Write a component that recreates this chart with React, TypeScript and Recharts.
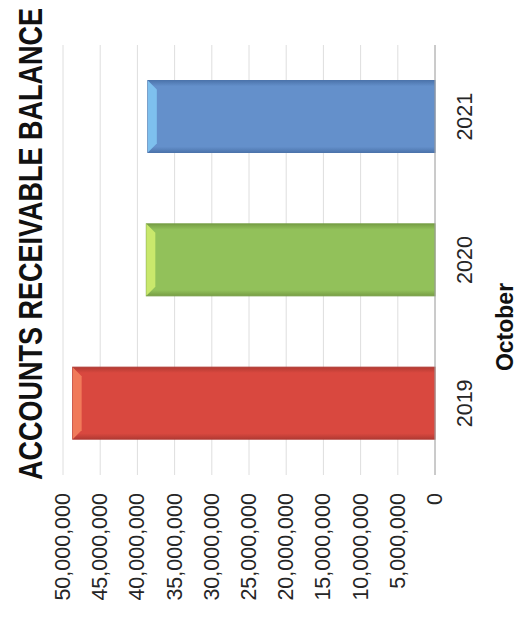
import React from 'react';
import { BarChart, Bar, XAxis, YAxis, CartesianGrid } from 'recharts';

const CATEGORIES = ['2019', '2020', '2021'];
const BALANCES = [48700000, 38800000, 38600000];
const Y_TICKS = [0, 5000000, 10000000, 15000000, 20000000, 25000000, 30000000, 35000000, 40000000, 45000000, 50000000];
const TITLE = 'ACCOUNTS RECEIVABLE BALANCE';
const X_TITLE = 'October';

const BAR_STYLES = [
  { main: '#D9483F', light: '#F07A5A', dark: '#B23A33' },
  { main: '#92C15A', light: '#C9E86C', dark: '#779E45' },
  { main: '#6490CB', light: '#7EC0EE', dark: '#4C74AC' },
];

const data = CATEGORIES.map((year, i) => ({ year, balance: BALANCES[i] }));

const FONT = '"Liberation Sans", Arial, sans-serif';

const fmt = (v: number) => v.toLocaleString('en-US');

const YTick = (props: any) => {
  const { x, y, payload } = props;
  return (
    <text x={x} y={y} textAnchor="end" dominantBaseline="central" fontFamily={FONT} fontSize={21.5} fill="#262626">
      {fmt(payload.value)}
    </text>
  );
};

const XTick = (props: any) => {
  const { x, y, payload } = props;
  return (
    <text x={x} y={y} dy="0.71em" textAnchor="middle" fontFamily={FONT} fontSize={21.5} fill="#262626">
      {payload.value}
    </text>
  );
};

const BevelBar = (props: any) => {
  const { x, y, width, height, index } = props;
  const s = BAR_STYLES[index % BAR_STYLES.length];
  const b = 9;
  const gid = `g${index}`;
  return (
    <g>
      <defs>
        <linearGradient id={gid} x1="0" y1="0" x2="1" y2="0">
          <stop offset="0%" stopColor={s.dark} />
          <stop offset="8%" stopColor={s.main} />
          <stop offset="92%" stopColor={s.main} />
          <stop offset="100%" stopColor={s.dark} />
        </linearGradient>
      </defs>
      <rect x={x} y={y} width={width} height={height} fill={`url(#${gid})`} stroke={s.dark} strokeWidth={1} />
      <polygon
        points={`${x},${y} ${x + width},${y} ${x + width - b},${y + b} ${x + b},${y + b}`}
        fill={s.light}
      />
    </g>
  );
};

export default function App() {
  return (
    <div style={{ position: 'absolute', left: 0, top: 0, width: 519, height: 635, overflow: 'hidden', background: '#fff' }}>
      <div
        style={{
          position: 'absolute',
          left: 0,
          top: 0,
          width: 635,
          height: 519,
          transformOrigin: '0 0',
          transform: 'translate(0px, 635px) rotate(-90deg)',
        }}
      >
        <BarChart
          width={635}
          height={519}
          data={data}
          margin={{ top: 63, right: 45, left: 0, bottom: 0 }}
          barCategoryGap="25%"
        >
          <CartesianGrid vertical={false} stroke="#DEDEDE" />
          <XAxis
            dataKey="year"
            height={84}
            tickSize={0}
            tickMargin={22}
            axisLine={{ stroke: '#A6A6A6' }}
            tickLine={false}
            tick={<XTick />}
            interval={0}
            label={{
              content: () => (
                <text x={308} y={513} textAnchor="middle" fontFamily={FONT} fontWeight="bold" fontSize={23} fill="#111">
                  {X_TITLE}
                </text>
              ),
            }}
          />
          <YAxis
            width={160}
            domain={[0, 50000000]}
            ticks={Y_TICKS}
            interval={0}
            axisLine={false}
            tickLine={false}
            tickSize={0}
            tickMargin={18}
            tick={<YTick />}
          />
          <Bar dataKey="balance" isAnimationActive={false} shape={<BevelBar />} />
        </BarChart>
        <svg width={635} height={519} style={{ position: 'absolute', left: 0, top: 0, pointerEvents: 'none' }}>
          <text
            transform="translate(391,42) scale(1,1.22)"
            x={0}
            y={0}
            textAnchor="middle"
            fontFamily={FONT}
            fontWeight="bold"
            fontSize={27}
            fill="#111"
          >
            {TITLE}
          </text>
        </svg>
      </div>
    </div>
  );
}
